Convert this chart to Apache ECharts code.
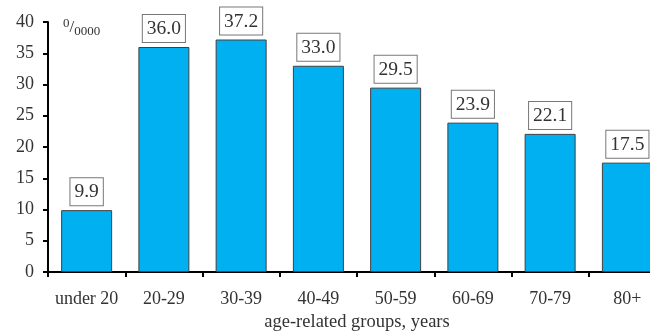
<!DOCTYPE html>
<html><head><meta charset="utf-8">
<script src="https://cdn.jsdelivr.net/npm/echarts@6/dist/echarts.min.js"></script>
<style>html,body{margin:0;padding:0;background:#fff}#c{width:650px;height:331px}</style>
</head><body><div id="c"></div>
<script>
const categories = ['under 20','20-29','30-39','40-49','50-59','60-69','70-79','80+'];
const values = [9.9, 36.0, 37.2, 33.0, 29.5, 23.9, 22.1, 17.5];
const yTicks = [0,5,10,15,20,25,30,35,40];
const font = '"Liberation Serif", "Times New Roman", serif';
const chart = echarts.init(document.getElementById('c'));
chart.setOption({
  animation:false,
  grid:{left:48, width:618, top:22, height:250, containLabel:false, outerBoundsMode:'none'},
  xAxis:{type:'category', data:categories,
    name:'age-related groups, years', nameLocation:'middle', nameGap:41,
    nameTextStyle:{fontFamily:font, fontSize:18.5, color:'#333'},
    axisLine:{lineStyle:{color:'#000', width:2}},
    axisTick:{show:true, alignWithLabel:false, interval:0, length:5, lineStyle:{color:'#000', width:2}},
    axisLabel:{fontFamily:font, fontSize:18, color:'#333', margin:18, interval:0, hideOverlap:false}
  },
  yAxis:{type:'value', min:0, max:40, interval:5,
    axisLine:{show:true, lineStyle:{color:'#000', width:2}},
    axisTick:{show:true, length:5, lineStyle:{color:'#000', width:2}},
    splitLine:{show:false},
    axisLabel:{fontFamily:font, fontSize:18, color:'#333', margin:14,
      formatter:v=>yTicks.includes(v)?String(v):''}
  },
  graphic:[{type:'text', left:63, top:17, style:{
    text:'{s|0}{m|/}{b|0000}', rich:{
      s:{fontFamily:font, fontSize:13, color:'#333', padding:[0,0,8,0]},
      m:{fontFamily:font, fontSize:17, color:'#333'},
      b:{fontFamily:font, fontSize:13, color:'#333', padding:[8,0,0,0]}
    }, fontFamily:font, fontSize:14, fill:'#333'}}],
  series:[{type:'bar', data:values, barWidth:51,
    itemStyle:{color:'#00B0F0', borderColor:'#404040', borderWidth:1},
    label:{show:true, position:'top', distance:5, formatter:p=>p.value.toFixed(1),
      fontFamily:font, fontSize:19.5, color:'#333', backgroundColor:'#fff',
      borderColor:'#777', borderWidth:1, padding:[4,4,3,4]}
  }]
});
</script></body></html>
